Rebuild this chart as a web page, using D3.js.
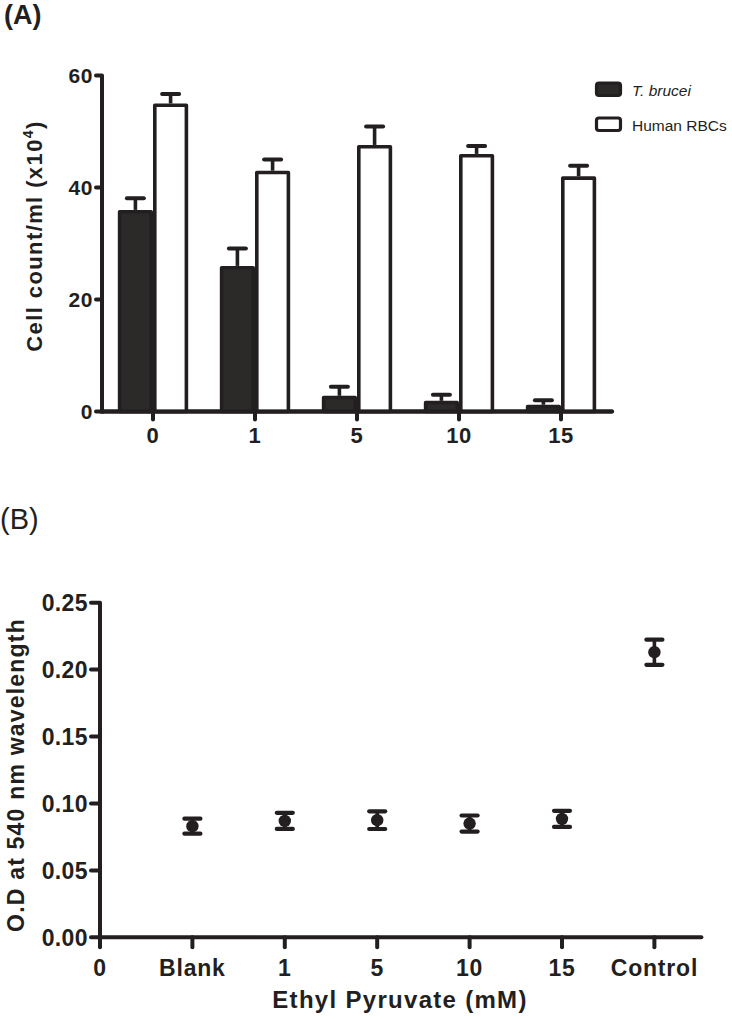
<!DOCTYPE html>
<html><head><meta charset="utf-8">
<script src="https://cdn.jsdelivr.net/npm/d3@7"></script>
<style>
html,body{margin:0;padding:0;background:#fff;}
text{font-family:"Liberation Sans",Arial,sans-serif;fill:#231f20;}
</style></head>
<body>
<script>
// ---- Panel A data ----
const concA = ["0", "1", "5", "10", "15"];
const bruceiMean = [36, 26, 2.8, 1.9, 1.2];
const bruceiErr = [2.1, 3.1, 1.6, 1.1, 0.8];
const rbcMean = [55, 43, 47.6, 46, 42];
const rbcErr = [1.7, 2.0, 3.3, 1.4, 1.9];
const ticksA = [0, 20, 40, 60];
const legendA = ["T. brucei", "Human RBCs"];

// ---- Panel B data ----
const catB = ["0", "Blank", "1", "5", "10", "15", "Control"];
const odCats = ["Blank", "1", "5", "10", "15", "Control"];
const odMean = [0.083, 0.087, 0.0875, 0.085, 0.0885, 0.213];
const odErr = [0.0056, 0.006, 0.0066, 0.006, 0.006, 0.0094];
const ticksB = [0, 0.05, 0.10, 0.15, 0.20, 0.25];

const W = 732, H = 1019;
const ink = "#231f20";
const svg = d3.select("body").append("svg").attr("width", W).attr("height", H);

// ================= Panel A =================
const yA = d3.scaleLinear().domain([0, 60]).range([411.5, 75.5]);
const xA = d3.scaleBand().domain(concA).range([102, 612]).padding(0);
const gA = svg.append("g");
const barW = xA.bandwidth() * 0.345;
const sw = 3.6;

svg.append("text").attr("x", 4).attr("y", 24).attr("font-size", 27).attr("font-weight", "bold").text("(A)");

// axes lines
gA.append("line").attr("x1", xA.range()[0]).attr("x2", xA.range()[0])
  .attr("y1", yA(60)).attr("y2", yA(0) + 2).attr("stroke", ink).attr("stroke-width", 4);
gA.append("line").attr("x1", xA.range()[0]).attr("x2", xA.range()[1])
  .attr("y1", yA(0)).attr("y2", yA(0)).attr("stroke", ink).attr("stroke-width", 4).attr("stroke-linecap", "round");
// y ticks
ticksA.forEach(t => {
  gA.append("line").attr("x1", xA.range()[0] - 6).attr("x2", xA.range()[0])
    .attr("y1", yA(t)).attr("y2", yA(t)).attr("stroke", ink).attr("stroke-width", 4).attr("stroke-linecap", "round");
  gA.append("text").attr("x", 93).attr("y", yA(t)).attr("dy", "0.36em").attr("text-anchor", "end")
    .attr("font-size", 21).attr("font-weight", "bold").attr("letter-spacing", 0.6).text(t);
});
// x ticks
concA.forEach(c => {
  const cx = xA(c) + xA.bandwidth() / 2;
  gA.append("line").attr("x1", cx).attr("x2", cx).attr("y1", yA(0)).attr("y2", yA(0) + 8)
    .attr("stroke", ink).attr("stroke-width", 4).attr("stroke-linecap", "round");
  gA.append("text").attr("x", cx).attr("y", 443).attr("text-anchor", "middle")
    .attr("font-size", 22).attr("font-weight", "bold").attr("letter-spacing", 0.6).text(c);
});

// bars
function drawBars(means, errs, offset, fill) {
  means.forEach((v, i) => {
    const c = concA[i];
    const cx = xA(c) + xA.bandwidth() / 2;
    const x0 = offset < 0 ? cx - barW : cx;
    const bc = x0 + barW / 2;
    gA.append("line").attr("x1", bc).attr("x2", bc).attr("y1", yA(v)).attr("y2", yA(v + errs[i]))
      .attr("stroke", ink).attr("stroke-width", 3.6);
    gA.append("line").attr("x1", bc - 8.5).attr("x2", bc + 8.5).attr("y1", yA(v + errs[i])).attr("y2", yA(v + errs[i]))
      .attr("stroke", ink).attr("stroke-width", 4).attr("stroke-linecap", "round");
    gA.append("rect").attr("x", x0 + sw / 2).attr("y", yA(v) + sw / 2)
      .attr("width", barW - sw).attr("height", Math.max(0, yA(0) - yA(v) - sw / 2))
      .attr("fill", fill).attr("stroke", ink).attr("stroke-width", sw).attr("stroke-linejoin", "round");
  });
}
drawBars(rbcMean, rbcErr, 1, "#fff");
drawBars(bruceiMean, bruceiErr, -1, "#2b2a29");
gA.append("line").attr("x1", xA.range()[0]).attr("x2", xA.range()[1])
  .attr("y1", yA(0)).attr("y2", yA(0)).attr("stroke", ink).attr("stroke-width", 4).attr("stroke-linecap", "round");

// legend
const leg = svg.append("g");
legendA.forEach((name, i) => {
  const ly = 82 + i * 35;
  leg.append("rect").attr("x", 596.5).attr("y", ly + 1).attr("width", 24).attr("height", 12.5).attr("rx", 2.5)
    .attr("fill", i === 0 ? "#2b2a29" : "#fff").attr("stroke", ink).attr("stroke-width", 3.2);
  leg.append("text").attr("x", 632).attr("y", ly + 13.5).attr("font-size", 15.5)
    .attr("font-style", i === 0 ? "italic" : "normal").text(name);
});

// y label A
const yl = svg.append("text").attr("transform", "translate(42,236) rotate(-90)").attr("text-anchor", "middle")
  .attr("font-size", 22).attr("font-weight", "bold").attr("letter-spacing", 1.4);
yl.append("tspan").text("Cell count/ml (x10");
yl.append("tspan").attr("font-size", 14).attr("dy", -9).text("4");
yl.append("tspan").attr("dy", 9).text(")");

// ================= Panel B =================
svg.append("text").attr("x", 0).attr("y", 529).attr("font-size", 29).text("(B)");

const yB = d3.scaleLinear().domain([0, 0.25]).range([937.3, 602.7]);
const xB = d3.scalePoint().domain(catB.concat(["_end"])).range([100, 100 + 92.4 * 7]);
const gB = svg.append("g");
const x0B = xB("0");
const xEndB = xB("Control") + 47;

gB.append("line").attr("x1", x0B).attr("x2", x0B).attr("y1", yB(0.25)).attr("y2", yB(0) + 10)
  .attr("stroke", ink).attr("stroke-width", 4);
gB.append("line").attr("x1", x0B).attr("x2", xEndB).attr("y1", yB(0)).attr("y2", yB(0))
  .attr("stroke", ink).attr("stroke-width", 4).attr("stroke-linecap", "round");

ticksB.forEach(t => {
  gB.append("line").attr("x1", x0B - 9).attr("x2", x0B).attr("y1", yB(t)).attr("y2", yB(t))
    .attr("stroke", ink).attr("stroke-width", 4).attr("stroke-linecap", "round");
  gB.append("text").attr("x", 88).attr("y", yB(t)).attr("dy", "0.36em").attr("text-anchor", "end")
    .attr("font-size", 23).attr("font-weight", "bold").attr("letter-spacing", 0.4).text(d3.format(".2f")(t));
});
catB.forEach(c => {
  const cx = xB(c);
  gB.append("line").attr("x1", cx).attr("x2", cx).attr("y1", yB(0)).attr("y2", yB(0) + 10)
    .attr("stroke", ink).attr("stroke-width", 4).attr("stroke-linecap", "round");
  gB.append("text").attr("x", cx).attr("y", 976).attr("text-anchor", "middle")
    .attr("font-size", 23).attr("font-weight", "bold").attr("letter-spacing", 0.8).text(c);
});

odCats.forEach((c, i) => {
  const cx = xB(c);
  const v = odMean[i], e = odErr[i];
  gB.append("line").attr("x1", cx).attr("x2", cx).attr("y1", yB(v + e)).attr("y2", yB(v - e))
    .attr("stroke", ink).attr("stroke-width", 3.6);
  [v + e, v - e].forEach(w => {
    gB.append("line").attr("x1", cx - 8).attr("x2", cx + 8).attr("y1", yB(w)).attr("y2", yB(w))
      .attr("stroke", ink).attr("stroke-width", 4.2).attr("stroke-linecap", "round");
  });
  gB.append("circle").attr("cx", cx).attr("cy", yB(v)).attr("r", 6.2).attr("fill", ink);
});

svg.append("text").attr("transform", "translate(24,775) rotate(-90)").attr("text-anchor", "middle")
  .attr("font-size", 23).attr("font-weight", "bold").attr("letter-spacing", 1.2).text("O.D at 540 nm wavelength");

svg.append("text").attr("x", 400).attr("y", 1008).attr("text-anchor", "middle")
  .attr("font-size", 24).attr("font-weight", "bold").attr("letter-spacing", 1.3).text("Ethyl Pyruvate (mM)");
</script>
</body></html>
